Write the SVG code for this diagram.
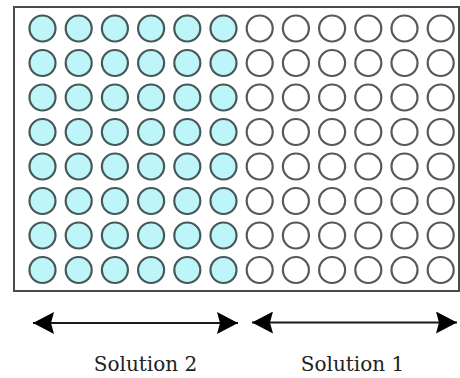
<svg xmlns="http://www.w3.org/2000/svg" xmlns:xlink="http://www.w3.org/1999/xlink" width="460" height="378" viewBox="0 0 460 378">
  <style>
    .plate { fill: #ffffff; stroke: #4a4a4a; stroke-width: 2; }
    .well { stroke: #505a5a; stroke-width: 2.2; }
    .filled { fill: #bdf5f8; stroke: #475858; }
    .empty { fill: #ffffff; stroke: #585858; }
    .span { stroke: #1a1a1a; stroke-width: 2; fill: none; }
    .label { font-family: "DejaVu Serif", "Liberation Serif", serif; font-size: 20px; fill: #222222; text-anchor: middle; }
  </style>
  <defs>
    <marker id="head" viewBox="0 0 21 22" markerWidth="21" markerHeight="22" refX="21" refY="11" markerUnits="userSpaceOnUse" orient="auto-start-reverse">
      <path d="M0,0 L21,11 L0,22 L3,11 z" fill="#000000"/>
    </marker>
    <!-- one row of six wells, origin at the first well's centre -->
    <g id="row6">
      <circle cx="0" cy="0" r="13"/>
      <circle cx="36.2" cy="0" r="13"/>
      <circle cx="72.4" cy="0" r="13"/>
      <circle cx="108.6" cy="0" r="13"/>
      <circle cx="144.8" cy="0" r="13"/>
      <circle cx="181" cy="0" r="13"/>
    </g>
  </defs>

  <rect width="460" height="378" fill="#ffffff"/>

  <!-- plate outline -->
  <g id="plate">
    <rect class="plate" x="14" y="7" width="445" height="284"/>
  </g>

  <!-- left half: wells holding solution 2 -->
  <g id="wells-solution2" class="well filled">
    <use xlink:href="#row6" x="42.5" y="28.5"/>
    <use xlink:href="#row6" x="42.5" y="63"/>
    <use xlink:href="#row6" x="42.5" y="97.5"/>
    <use xlink:href="#row6" x="42.5" y="132"/>
    <use xlink:href="#row6" x="42.5" y="166.5"/>
    <use xlink:href="#row6" x="42.5" y="201"/>
    <use xlink:href="#row6" x="42.5" y="235.5"/>
    <use xlink:href="#row6" x="42.5" y="270"/>
  </g>

  <!-- right half: wells holding solution 1 -->
  <g id="wells-solution1" class="well empty">
    <use xlink:href="#row6" x="259.7" y="28.5"/>
    <use xlink:href="#row6" x="259.7" y="63"/>
    <use xlink:href="#row6" x="259.7" y="97.5"/>
    <use xlink:href="#row6" x="259.7" y="132"/>
    <use xlink:href="#row6" x="259.7" y="166.5"/>
    <use xlink:href="#row6" x="259.7" y="201"/>
    <use xlink:href="#row6" x="259.7" y="235.5"/>
    <use xlink:href="#row6" x="259.7" y="270"/>
  </g>

  <!-- span arrows -->
  <g id="connectors">
    <line class="span" x1="33" y1="323" x2="238" y2="323" marker-start="url(#head)" marker-end="url(#head)"/>
    <line class="span" x1="252" y1="322.5" x2="457" y2="322.5" marker-start="url(#head)" marker-end="url(#head)"/>
  </g>

  <g id="label-solution2">
    <text class="label" x="145.5" y="371">Solution 2</text>
  </g>
  <g id="label-solution1">
    <text class="label" x="352.5" y="371">Solution 1</text>
  </g>
</svg>
